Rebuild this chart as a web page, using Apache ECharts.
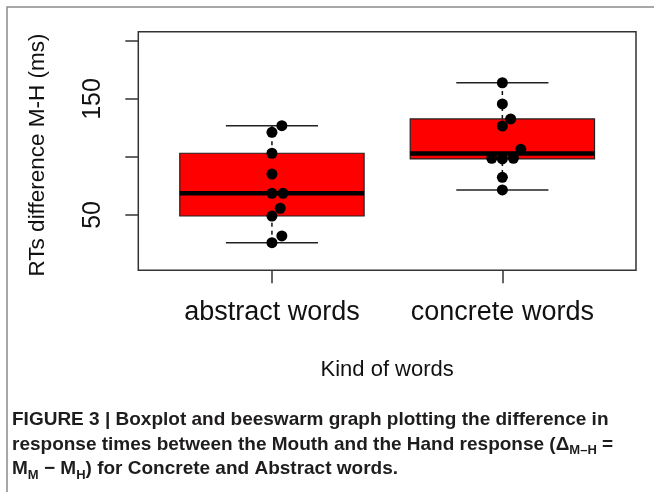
<!DOCTYPE html>
<html>
<head>
<meta charset="utf-8">
<script src="https://cdn.jsdelivr.net/npm/echarts@6/dist/echarts.min.js"></script>
<style>html,body{margin:0;padding:0;background:#fff;}#c{width:654px;height:492px;}</style>
</head>
<body>
<div id="c"></div>
<script>
// ---- data ----
const categories = ['abstract words', 'concrete words'];
const boxPos = [1, 2];
const whiskerLow = [26.1, 71.6];
const q1 = [49.1, 98.3];
const median = [68.7, 103.0];
const q3 = [103.2, 132.8];
const whiskerHigh = [127.0, 164.0];
const abstractX = [1.043, 1, 1, 1, 1, 1.048, 1.036, 1, 1.043, 1];
const abstractY = [127.0, 121.3, 103.2, 85.3, 68.7, 68.7, 55.8, 49.1, 31.9, 26.1];
const concreteX = [2, 2, 2.036, 2, 2.08, 1.954, 2, 2.048, 2, 2];
const concreteY = [164.0, 145.7, 132.8, 126.7, 106.6, 98.9, 98.3, 98.9, 82.5, 71.6];
const yTicks = [50, 100, 150, 200];
const yTickLabels = [50, 150];
const yTitle = 'RTs difference M-H (ms)';
const xTitle = 'Kind of words';

const boxData = boxPos.map((p, i) => [p, whiskerLow[i], q1[i], median[i], q3[i], whiskerHigh[i]]);
const points = abstractX.map((x, i) => [x, abstractY[i]])
  .concat(concreteX.map((x, i) => [x, concreteY[i]]));

const chart = echarts.init(document.getElementById('c'), null, {renderer: 'canvas'});
const ink = '#111';
const option = {
  animation: false,
  backgroundColor: '#fff',
  title: {
    left: 12, top: 408, padding: 0,
    text: 'FIGURE 3 | Boxplot and beeswarm graph plotting the difference in\n' +
          'response times between the Mouth and the Hand response (Δ{s|M–H} =\n' +
          'M{s|M} − M{s|H}) for Concrete and Abstract words.',
    textStyle: {
      fontFamily: 'Liberation Sans', fontSize: 19, fontWeight: 'bold', color: '#1e1c1d', lineHeight: 24.5,
      rich: {
        s: {fontFamily: 'Liberation Sans', fontSize: 13, fontWeight: 'bold', color: '#1e1c1d', lineHeight: 13, verticalAlign: 'bottom'}
      }
    }
  },
  graphic: [{
    type: 'polyline', silent: true,
    shape: {points: [[7, 492], [7, 7], [654, 7]]},
    style: {stroke: '#8a8a8a', lineWidth: 1.5, fill: null}
  }],
  grid: {
    left: 138.3, right: 18, top: 31.7, bottom: 221.7,
    show: true, borderColor: '#333', borderWidth: 1.5, backgroundColor: 'transparent'
  },
  xAxis: {
    type: 'value', min: 0.42, max: 2.58,
    axisLine: {show: false},
    splitLine: {show: false},
    axisTick: {show: true, customValues: boxPos, length: 13, lineStyle: {color: '#333', width: 1.5}},
    axisLabel: {
      customValues: boxPos, margin: 29, fontFamily: 'Liberation Sans', fontSize: 27, color: ink,
      formatter: v => categories[Math.round(v) - 1]
    },
    name: xTitle, nameLocation: 'middle', nameGap: 89,
    nameTextStyle: {fontFamily: 'Liberation Sans', fontSize: 22, color: ink}
  },
  yAxis: {
    type: 'value', min: 2.3, max: 208,
    axisLine: {show: false},
    splitLine: {show: false},
    axisTick: {show: true, customValues: yTicks, length: 13, lineStyle: {color: '#333', width: 1.5}},
    axisLabel: {customValues: yTickLabels, rotate: 90, margin: 33, fontFamily: 'Liberation Sans', fontSize: 25, color: ink},
    name: yTitle, nameLocation: 'middle', nameGap: 89, nameRotate: 90,
    nameTextStyle: {fontFamily: 'Liberation Sans', fontSize: 22.5, color: ink, padding: [0, 8, 0, 0]}
  },
  series: [{
    type: 'custom',
    data: boxData,
    z: 2,
    renderItem: function (params, api) {
      const x = api.value(0);
      const lo = api.coord([x, api.value(1)]);
      const a = api.coord([x, api.value(2)]);
      const m = api.coord([x, api.value(3)]);
      const b = api.coord([x, api.value(4)]);
      const hi = api.coord([x, api.value(5)]);
      const half = api.size([0.4, 0])[0];
      const cap = half / 2;
      const wl = {stroke: ink, lineWidth: 1.5, lineDash: [4, 4]};
      const cl = {stroke: '#222', lineWidth: 1.5};
      return {
        type: 'group',
        children: [
          {type: 'line', shape: {x1: lo[0], y1: lo[1], x2: a[0], y2: a[1]}, style: wl},
          {type: 'line', shape: {x1: b[0], y1: b[1], x2: hi[0], y2: hi[1]}, style: wl},
          {type: 'line', shape: {x1: lo[0] - cap, y1: lo[1], x2: lo[0] + cap, y2: lo[1]}, style: cl},
          {type: 'line', shape: {x1: hi[0] - cap, y1: hi[1], x2: hi[0] + cap, y2: hi[1]}, style: cl},
          {type: 'rect', shape: {x: a[0] - half, y: b[1], width: half * 2, height: a[1] - b[1]},
           style: {fill: '#ff0000', stroke: '#222', lineWidth: 1.2}},
          {type: 'line', shape: {x1: m[0] - half, y1: m[1], x2: m[0] + half, y2: m[1]},
           style: {stroke: '#000', lineWidth: 4.5}}
        ]
      };
    }
  }, {
    type: 'scatter',
    data: points,
    z: 5,
    symbol: 'circle',
    symbolSize: 11,
    itemStyle: {color: '#000', opacity: 1}
  }]
};
chart.setOption(option);
</script>
</body>
</html>
